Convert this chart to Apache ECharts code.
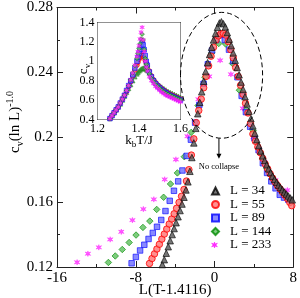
<!DOCTYPE html>
<html><head><meta charset="utf-8">
<script src="https://cdn.jsdelivr.net/npm/echarts@6/dist/echarts.min.js"></script>
<style>html,body{margin:0;padding:0;background:#fff}#c{width:300px;height:298px}</style>
</head><body><div id="c"></div>
<script>
// ---------- main panel data: L(T-1.4116) vs c_v (ln L)^-1 ----------
const L34_X = [-5.3,-5.1,-4.9,-4.7,-4.5,-4.3,-4.1,-3.9,-3.7,-3.5,-3.3,-3.1,-2.9,-2.7,-2.5,-2.3,-2.1,-1.9,-1.7,-1.5,-1.3,-1.1,-0.9,-0.7,-0.5,-0.3,-0.1,0.1,0.3,0.5,0.7,0.9,1.1,1.3,1.5,1.7,1.9,2.1,2.3,2.5,2.7,2.9,3.1,3.3,3.5,3.7,3.9,4.1,4.3,4.5,4.7,4.9,5.1,5.3,5.5,5.7,5.9,6.1,6.3,6.5,6.7,6.9,7.1,7.3,7.5,7.7,7.9];
const L34_Y = [0.1215,0.1245,0.1285,0.1325,0.1362,0.1400,0.1437,0.1473,0.1510,0.1548,0.1588,0.1630,0.1675,0.1725,0.1790,0.1875,0.1965,0.2055,0.2145,0.2215,0.2280,0.2345,0.2405,0.2460,0.2510,0.2555,0.2600,0.2640,0.2678,0.2705,0.2712,0.2700,0.2680,0.2645,0.2605,0.2565,0.2520,0.2475,0.2430,0.2385,0.2340,0.2295,0.2250,0.2205,0.2160,0.2115,0.2070,0.2025,0.1985,0.1948,0.1915,0.1885,0.1857,0.1830,0.1805,0.1782,0.1760,0.1740,0.1722,0.1705,0.1690,0.1676,0.1662,0.1650,0.1638,0.1626,0.1614];

const L55_X = [-6.60,-6.35,-6.10,-5.85,-5.60,-5.35,-5.10,-4.85,-4.60,-4.35,-4.10,-3.85,-3.60,-3.35,-3.10,-2.85,-2.60,-2.35,-2.10,-1.85,-1.60,-1.35,-1.10,-0.85,-0.60,-0.35,-0.10,0.15,0.40,0.65,0.90,1.15,1.40,1.65,1.90,2.15,2.40,2.65,2.90,3.15,3.40,3.65,3.90,4.15,4.40,4.65,4.90,5.15,5.40,5.65,5.90,6.15,6.40,6.65,6.90,7.15,7.40,7.65,7.85];
const L55_Y = [0.1222,0.1252,0.1281,0.1311,0.1340,0.1372,0.1403,0.1434,0.1465,0.1496,0.1528,0.1562,0.1598,0.1636,0.1678,0.1730,0.1800,0.1890,0.1990,0.2090,0.2165,0.2235,0.2305,0.2375,0.2440,0.2500,0.2555,0.2600,0.2625,0.2638,0.2640,0.2630,0.2590,0.2540,0.2490,0.2430,0.2375,0.2320,0.2265,0.2210,0.2150,0.2085,0.2020,0.1975,0.1940,0.1905,0.1870,0.1835,0.1805,0.1775,0.1748,0.1724,0.1702,0.1682,0.1662,0.1643,0.1622,0.1598,0.1578];

const L89_X = [-8.42,-7.99,-7.56,-7.13,-6.70,-6.27,-5.84,-5.41,-4.98,-4.55,-4.12,-3.69,-3.26,-2.83,-2.40,-1.97,-1.54,-1.11,-0.68,-0.25,0.18,0.61,1.04,1.47,1.90,2.33,2.76,3.19,3.62,4.05,4.48,4.91,5.34,5.77,6.20,6.63,7.06,7.49];
const L89_Y = [0.1223,0.1262,0.1302,0.1337,0.1373,0.1410,0.1448,0.1490,0.1545,0.1608,0.1670,0.1728,0.1795,0.1885,0.1985,0.2090,0.2200,0.2330,0.2450,0.2535,0.2600,0.2630,0.2600,0.2540,0.2470,0.2370,0.2255,0.2155,0.2065,0.1995,0.1920,0.1840,0.1780,0.1728,0.1685,0.1645,0.1628,0.1615];

const L144_X = [-10.78,-10.08,-9.37,-8.67,-7.97,-7.27,-6.57,-5.87,-5.17,-4.47,-3.77,-3.07,-2.37,-1.67,-0.97,-0.27,0.43,1.13,1.83,2.53,3.23,3.93,4.63,5.33,6.03,6.73,7.43];
const L144_Y = [0.1228,0.1268,0.1308,0.1351,0.1397,0.1444,0.1483,0.1555,0.1630,0.1712,0.1780,0.1880,0.2030,0.2195,0.2370,0.2520,0.2578,0.2575,0.2455,0.2290,0.2170,0.2040,0.1910,0.1805,0.1732,0.1672,0.1625];

const L233_X = [-13.96,-12.86,-11.75,-10.60,-9.47,-8.34,-7.23,-6.16,-5.06,-3.92,-2.75,-1.64,-0.53,0.57,1.67,2.87,3.95,5.08,6.19,7.40];
const L233_Y = [0.1229,0.1282,0.1321,0.1370,0.1417,0.1489,0.1557,0.1617,0.1740,0.1863,0.2006,0.2234,0.2375,0.2474,0.2388,0.2178,0.2000,0.1846,0.1735,0.1674];

// ---------- inset data: k_b T/J vs c_v ----------
const T_INSET = [1.25,1.26,1.27,1.28,1.29,1.30,1.31,1.32,1.33,1.34,1.35,1.36,1.37,1.38,1.39,1.395,1.40,1.405,1.41,1.415,1.42,1.425,1.43,1.435,1.44,1.45,1.46,1.47,1.48,1.49,1.50,1.51,1.52,1.53,1.54,1.55,1.56,1.57,1.58,1.59,1.60];
const CV34  = [0.39,0.41,0.44,0.47,0.50,0.53,0.56,0.60,0.64,0.68,0.72,0.76,0.80,0.84,0.87, 0.885,0.90,0.91,0.92,0.925,0.93,0.93,0.925,0.915,0.905, 0.88,0.85,0.82,0.795,0.77,0.75,0.735,0.72,0.705,0.69,0.68,0.67,0.66,0.65,0.64,0.63];
const CV55  = [0.39,0.41,0.44,0.47,0.50,0.53,0.57,0.61,0.65,0.69,0.74,0.79,0.85,0.91,0.96, 0.99,1.02,1.04,1.055,1.065,1.06,1.04,1.01,0.98,0.95, 0.90,0.85,0.81,0.78,0.755,0.735,0.715,0.70,0.685,0.67,0.66,0.65,0.64,0.63,0.62,0.61];
const CV89  = [0.39,0.41,0.44,0.47,0.50,0.53,0.57,0.61,0.65,0.70,0.75,0.80,0.86,0.93,1.00, 1.04,1.08,1.12,1.16,1.19,1.17,1.12,1.06,1.00,0.96, 0.89,0.84,0.80,0.77,0.745,0.725,0.705,0.69,0.675,0.66,0.65,0.64,0.63,0.62,0.61,0.60];
const CV144 = [0.39,0.41,0.44,0.47,0.50,0.53,0.57,0.61,0.65,0.70,0.75,0.81,0.88,0.955,1.03, 1.08,1.13,1.18,1.23,1.28,1.22,1.12,1.03,0.97,0.93, 0.87,0.82,0.79,0.76,0.74,0.72,0.70,0.685,0.67,0.66,0.65,0.64,0.63,0.62,0.61,0.60];
const CV233 = [0.39,0.41,0.44,0.47,0.50,0.53,0.57,0.61,0.65,0.70,0.75,0.81,0.88,0.96,1.05, 1.10,1.16,1.23,1.30,1.35,1.22,1.10,1.00,0.94,0.90, 0.84,0.80,0.77,0.74,0.72,0.70,0.68,0.665,0.65,0.64,0.63,0.62,0.61,0.60,0.59,0.58];

const NAMES = ['L = 34','L = 55','L = 89','L = 144','L = 233'];

// ---------- styling ----------
const SERIF = 'Liberation Serif';
const STAR_PTS = [[5,0],[6,3.3],[9.8,1.9],[7.3,5],[9.8,8.1],[6,6.7],[5,10],[4,6.7],[0.2,8.1],[2.7,5],[0.2,1.9],[4,3.3]];
const STAR = 'path://M' + STAR_PTS.map(p => p.join(',')).join('L') + 'Z';
const STYLES = [
  {symbol:'triangle', size:6.5, itemStyle:{color:'#555555', borderColor:'#000000', borderWidth:0.8}},
  {symbol:'circle', size:6.5, itemStyle:{color:'#ff7373', borderColor:'#ff0000', borderWidth:1}},
  {symbol:'rect', size:5.5, itemStyle:{color:'#6b6bff', borderColor:'#0000ff', borderWidth:0.8}},
  {symbol:'diamond', size:6.5, itemStyle:{color:'#5cbf5c', borderColor:'#008a00', borderWidth:0.8}},
  {symbol:STAR, size:5.5, itemStyle:{color:'#ff33ff', borderColor:'#ff00ff', borderWidth:0.5}}
];
const INSET_STYLES = [
  {symbol:'triangle', itemStyle:{color:'#3f9f3f', borderColor:'#1f7a1f', borderWidth:0.6}},
  STYLES[1], STYLES[2], STYLES[3], STYLES[4]
];

const zip = (xs, ys) => xs.map((x, i) => [x, ys[i]]);
const MAIN = [zip(L34_X,L34_Y), zip(L55_X,L55_Y), zip(L89_X,L89_Y), zip(L144_X,L144_Y), zip(L233_X,L233_Y)];
const INSET = [CV34, CV55, CV89, CV144, CV233].map(cv => zip(T_INSET, cv));

const lineC = '#222';
function mkAxis(grid, pos, min, max, interval, labels, fs, margin) {
  return {
    type:'value', gridIndex:grid, position:pos, min:min, max:max, interval:interval,
    axisLine:{show:true, onZero:false, lineStyle:{color:lineC, width:1}},
    axisTick:{show:true, inside:true, length: grid === 0 ? 6 : 4, lineStyle:{color:lineC}},
    minorTick:{show:true, splitNumber:2, length: grid === 0 ? 3 : 2.5, lineStyle:{color:lineC}},
    splitLine:{show:false}, minorSplitLine:{show:false},
    axisLabel:{show:labels, color:'#000', fontFamily:SERIF, fontSize:fs, margin:margin, showMinLabel:true, showMaxLabel:true}
  };
}

const chart = echarts.init(document.getElementById('c'), null, {renderer:'canvas'});

const series = [];
// main panel: large L underneath, L = 34 on top
for (let k = 4; k >= 0; k--) {
  series.push({
    name: NAMES[k], type:'scatter', xAxisIndex:0, yAxisIndex:0,
    symbol: STYLES[k].symbol, symbolSize: STYLES[k].size, itemStyle: STYLES[k].itemStyle,
    data: MAIN[k], z: 2
  });
}
// inset: small L underneath, L = 233 on top
for (let k = 0; k <= 4; k++) {
  series.push({
    name: 'inset ' + NAMES[k], type:'scatter', xAxisIndex:2, yAxisIndex:2,
    symbol: INSET_STYLES[k].symbol, symbolSize: 4.5, itemStyle: INSET_STYLES[k].itemStyle,
    data: INSET[k], z: 4
  });
}

// the star icon is drawn separately below (the legend enlarges path icons)
const legendData = NAMES.map((n, k) => ({name: n, icon: k === 4 ? 'none' : STYLES[k].symbol}));
const LEG_LEFT = 211, LEG_TOP = 184.5, LEG_ROW = 13.5, LEG_ICON = 7;

chart.setOption({
  animation:false,
  backgroundColor:'#fff',
  grid:[
    {left:57, top:7, right:4, bottom:31},
    {left:97.5, top:22.5, width:83, height:97, show:true, backgroundColor:'#fff', borderWidth:0, z:3}
  ],
  xAxis:[
    mkAxis(0,'bottom',-16,8,8,true,15,4),
    mkAxis(0,'top',-16,8,8,false,15,4),
    mkAxis(1,'bottom',1.2,1.6,0.2,true,12,3),
    mkAxis(1,'top',1.2,1.6,0.2,false,12,3)
  ],
  yAxis:[
    mkAxis(0,'left',0.12,0.28,0.04,true,15,4),
    mkAxis(0,'right',0.12,0.28,0.04,false,15,4),
    mkAxis(1,'left',0.4,1.4,0.2,true,12,3),
    mkAxis(1,'right',0.4,1.4,0.2,false,12,3)
  ],
  legend:{
    data: legendData, orient:'vertical', left:LEG_LEFT, top:LEG_TOP, padding:0,
    itemWidth:LEG_ICON, itemHeight:LEG_ICON, itemGap:LEG_ROW - 13, selectedMode:false,
    textStyle:{fontFamily:SERIF, fontSize:13, color:'#000', lineHeight:13, padding:[0,0,0,6]}
  },
  series: series
});

// ---------- annotations placed through the axes ----------
const P = v => chart.convertToPixel({xAxisIndex:0, yAxisIndex:0}, v);
const c0 = P([0.717, 0.2382]);
const rx = P([0.717 + 4.17, 0.2382])[0] - c0[0];
const ry = c0[1] - P([0.717, 0.2382 + 0.0388])[1];
const ax = P([0.45, 0.2])[0];
const tip = P([0.45, 0.1868])[1];
const txt = P([0.45, 0.1815]);
const g = chart.getModel().getComponent('grid', 0).coordinateSystem.getRect();
const starCx = LEG_LEFT + LEG_ICON / 2, starCy = LEG_TOP + 4 * LEG_ROW + 6.5, starS = 0.6;
const starPoly = STAR_PTS.map(p => [starCx + (p[0] - 5) * starS, starCy + (p[1] - 5) * starS]);

chart.setOption({
  graphic:[
    {type:'ellipse', shape:{cx:c0[0], cy:c0[1], rx:rx, ry:ry}, style:{fill:'none', stroke:'#000', lineWidth:1, lineDash:[5,3]}, z:10},
    {type:'line', shape:{x1:ax, y1:c0[1]+ry, x2:ax, y2:tip-3}, style:{stroke:'#000', lineWidth:1}, z:10},
    {type:'polygon', shape:{points:[[ax-2.5, tip-5],[ax+2.5, tip-5],[ax, tip]]}, style:{fill:'#000'}, z:10},
    {type:'polygon', shape:{points:starPoly}, style:{fill:'#ff33ff', stroke:'#ff00ff', lineWidth:0.5}, z:10},
    {type:'text', x:txt[0], y:txt[1], style:{text:'No collapse', fontFamily:SERIF, fontSize:8.5, fill:'#000', align:'center', verticalAlign:'middle'}, z:10},
    {type:'text', x:g.x + g.width/2, y:g.y + g.height + 23, style:{text:'L(T-1.4116)', fontFamily:SERIF, fontSize:15, fill:'#000', align:'center', verticalAlign:'middle'}, z:10},
    {type:'text', x:15, y:122, rotation:Math.PI/2,
     style:{text:'{a|c}{b|v}{a|(ln L)}{c|-1.0}', align:'center', verticalAlign:'middle', fill:'#000',
       rich:{a:{fontFamily:SERIF, fontSize:15, lineHeight:20, verticalAlign:'middle'},
             b:{fontFamily:SERIF, fontSize:10, lineHeight:10, verticalAlign:'bottom'},
             c:{fontFamily:SERIF, fontSize:10, lineHeight:10, verticalAlign:'top'}}}, z:10},
    {type:'text', x:84, y:69, rotation:Math.PI/2,
     style:{text:'{a|c}{b|v}', align:'center', verticalAlign:'middle', fill:'#000',
       rich:{a:{fontFamily:SERIF, fontSize:13, lineHeight:16, verticalAlign:'middle'},
             b:{fontFamily:SERIF, fontSize:9, lineHeight:9, verticalAlign:'bottom'}}}, z:10},
    {type:'text', x:139, y:141,
     style:{text:'{a|k}{b|b}{a|T/J}', align:'center', verticalAlign:'middle', fill:'#000',
       rich:{a:{fontFamily:SERIF, fontSize:13, lineHeight:16, verticalAlign:'middle'},
             b:{fontFamily:SERIF, fontSize:9, lineHeight:9, verticalAlign:'bottom'}}}, z:10}
  ]
});
</script>
</body></html>
